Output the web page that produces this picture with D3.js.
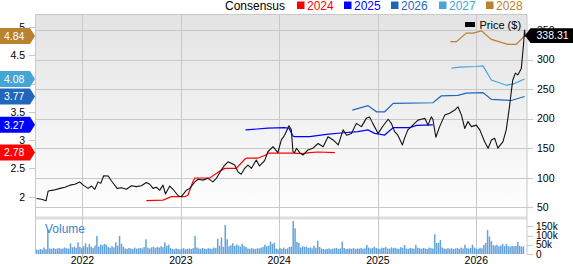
<!DOCTYPE html>
<html>
<head>
<meta charset="utf-8">
<script src="https://cdn.jsdelivr.net/npm/d3@7"></script>
<style>
  body { margin: 0; background: #fff; }
  text { font-family: "Liberation Sans", Arial, sans-serif; }
</style>
</head>
<body>
<div id="chart"></div>
<script>
// price history (right axis, $)
const priceDates = ["2021-07-15","2021-08-03","2021-08-19","2021-08-27","2021-09-15","2021-10-10","2021-10-28","2021-11-16","2021-12-04","2021-12-22",
  "2022-01-04","2022-01-22","2022-02-04","2022-02-16","2022-02-28","2022-03-10","2022-03-21","2022-04-07","2022-04-19","2022-05-10",
  "2022-05-26","2022-06-13","2022-07-02","2022-07-20","2022-08-08","2022-08-26","2022-09-08","2022-09-20","2022-10-02","2022-10-15",
  "2022-10-27","2022-11-05","2022-11-21","2022-12-03","2022-12-22","2023-01-03","2023-01-22","2023-02-03","2023-02-22","2023-03-06",
  "2023-03-24","2023-04-12","2023-04-30","2023-05-13","2023-05-31","2023-06-13","2023-06-25","2023-07-07","2023-07-20","2023-08-01",
  "2023-08-13","2023-08-26","2023-09-07","2023-09-20","2023-10-08","2023-10-20","2023-11-08","2023-11-20","2023-12-09","2023-12-27",
  "2024-01-09","2024-01-21","2024-02-06","2024-02-15","2024-02-21","2024-02-27","2024-03-05","2024-03-17","2024-03-29","2024-04-17",
  "2024-05-05","2024-05-24","2024-06-12","2024-06-30","2024-07-19","2024-08-07","2024-08-25","2024-09-07","2024-09-25","2024-10-13",
  "2024-11-01","2024-11-19","2024-12-01","2024-12-13","2025-01-02","2025-01-20","2025-02-08","2025-02-20","2025-03-04","2025-03-16",
  "2025-04-02","2025-04-10","2025-04-22","2025-05-05","2025-05-17","2025-05-30","2025-06-11","2025-06-24","2025-07-06","2025-07-18",
  "2025-07-24","2025-08-04","2025-08-18","2025-09-06","2025-09-24","2025-10-13","2025-10-25","2025-11-07","2025-11-19","2025-12-01",
  "2025-12-14","2026-01-01","2026-01-14","2026-02-01","2026-02-14","2026-02-26","2026-03-10","2026-03-22","2026-04-10","2026-04-22",
  "2026-05-04","2026-05-16","2026-05-26","2026-06-04","2026-06-17","2026-06-25","2026-06-29","2026-07-02"];
const priceValues = [65,63.5,61,77.5,79,82,84,87.5,89,93,
  87.5,82,86,80.5,93,90.5,103.5,103,94.5,82,
  83,80.5,86.5,85,86.5,92,89,82,84,79,
  87.5,72.5,86,80.5,69.5,68,79,82,93,97.5,
  96,99,93,99,113,121.5,127,124.5,121.5,110,
  106,116,121.5,116,130,120,129,144,152.5,142.5,
  164,172,188,181,144,142.5,150,142.5,138.5,147,
  150,158,152.5,169.5,164,155.5,181,172,175,192,
  186.5,200.5,203,192,175,187.5,199,192,178,172,
  155.5,167,181,186.5,192,197.5,199,200.5,189,203,
  199,168.5,186.5,206,209,214.5,220,206,183.5,195,
  186.5,189,181,161,150,164,167,150,161,181,
  220,265,277,274,285,325,350,338.31];

// consensus EPS by fiscal year (left axis)
const epsYears = ["2024","2025","2026","2027","2028"];
const epsColors = ["#ff0000","#0000ff","#2266bb","#45a5d5","#b8822f"];
const eps2024Dates = ["2022-08-26","2022-10-27","2022-11-27","2023-01-16","2023-01-28","2023-02-15","2023-02-22","2023-04-18","2023-05-25","2023-06-13","2023-07-26","2023-08-26","2023-09-02","2023-10-14","2023-11-14","2023-11-20","2024-02-21","2024-03-29","2024-04-23","2024-05-24","2024-07-25"];
const eps2024Values = [1.93,1.94,2.0,2.0,2.03,2.27,2.33,2.33,2.45,2.5,2.5,2.66,2.68,2.68,2.74,2.77,2.77,2.76,2.78,2.79,2.78];
const eps2025Dates = ["2023-08-29","2023-11-20","2024-01-21","2024-02-06","2024-02-21","2024-02-27","2024-04-23","2024-06-24","2024-08-25","2024-10-19","2024-11-25","2024-12-20","2025-01-26","2025-02-27","2025-04-29","2025-05-24","2025-07-24"];
const eps2025Values = [3.18,3.21,3.22,3.21,3.07,3.06,3.06,3.10,3.13,3.15,3.18,3.12,3.09,3.22,3.22,3.26,3.27];
const eps2026Dates = ["2024-09-28","2024-11-25","2024-12-27","2025-01-26","2025-02-27","2025-07-24","2025-08-24","2025-10-25","2025-11-25","2026-01-26","2026-02-26","2026-05-11","2026-06-29"];
const eps2026Values = [3.53,3.61,3.50,3.50,3.65,3.66,3.78,3.79,3.83,3.84,3.72,3.70,3.77];
const eps2027Dates = ["2025-10-01","2025-11-01","2026-01-01","2026-01-26","2026-02-26","2026-04-22","2026-05-17","2026-06-29"];
const eps2027Values = [4.27,4.29,4.30,4.31,4.06,3.97,3.99,4.08];
const eps2028Dates = ["2025-09-27","2025-10-19","2025-11-25","2025-12-20","2026-01-20","2026-02-26","2026-04-28","2026-05-29","2026-06-29"];
const eps2028Values = [4.74,4.74,4.89,4.89,4.93,4.78,4.69,4.69,4.84];
const epsLast = ["2.78","3.27","3.77","4.08","4.84"];

// weekly volume (thousands), first week starting 2021-07-15
const volumeStart = "2021-07-15";
const volumeValues = [25,22,28,24,35,26,130,30,28,32,
  27,30,33,28,30,35,31,29,58,36,
  40,34,63,38,32,42,58,37,55,40,
  33,45,98,40,52,48,55,50,38,34,
  42,36,63,45,98,55,40,30,28,33,
  30,27,35,29,31,33,30,38,80,34,
  30,36,40,33,38,35,42,37,63,45,
  50,33,28,26,30,27,25,29,31,26,
  28,30,27,32,98,35,30,28,33,29,
  27,31,30,28,35,32,83,45,90,40,
  158,80,42,48,58,44,52,46,40,55,
  43,38,30,28,32,29,27,31,30,34,
  38,50,42,45,67,55,62,30,25,33,
  28,35,27,30,38,40,180,140,65,60,
  35,42,38,40,33,36,31,45,34,72,
  38,30,27,25,28,30,26,29,31,33,
  28,30,67,33,27,29,30,28,32,27,
  30,29,33,28,31,49,35,30,33,40,
  32,30,28,35,33,38,30,29,36,32,
  34,30,28,37,33,49,30,28,33,31,
  29,50,34,31,28,33,30,27,35,32,
  30,107,60,60,76,35,30,28,32,29,
  31,27,30,33,28,35,30,50,32,29,
  33,50,35,30,28,34,31,50,60,130,
  95,70,48,45,50,42,46,55,44,55,
  43,40,45,42,44,65,45,40,42];

const priceTicks = [50,100,150,200,250,300,350];
const epsTicks = [2,2.5,3,3.5,4,4.5,5];
// the "4" label sits under the 4.08 tag in the original, so it is left blank
const epsTickLabels = ["2","2.5","3","3.5","","4.5","5"];
const volumeTicks = [0,50,100,150];
const volumeTickLabels = ["0","50k","100k","150k"];
const yearTicks = ["2022","2023","2024","2025","2026"];
const lastPrice = "338.31";

const W = 573, H = 264;
const L = 35.5, R = 527, T = 14, priceBottom = 216.5, volTop = 219.5, volBottom = 254;
const parse = d3.timeParse("%Y-%m-%d");

const svg = d3.select("#chart").append("svg")
  .attr("width", W)
  .attr("height", H);

const x = d3.scaleTime()
  .domain([new Date(2022, 0, 1), new Date(2026, 0, 1)])
  .range([82.4, 476.3]);
const yPrice = d3.scaleLinear().domain([50, 350]).range([207.3, 30]);
const yEps = d3.scaleLinear().domain([2, 5]).range([196.7, 26.9]);
const yVol = d3.scaleLinear().domain([0, 150]).range([volBottom, 226.4]);

const defs = svg.append("defs");
const grad = defs.append("linearGradient")
  .attr("id", "bg")
  .attr("x1", 0).attr("y1", 0).attr("x2", 0).attr("y2", 1);
grad.append("stop").attr("offset", "0%").attr("stop-color", "#e3e3e3");
grad.append("stop").attr("offset", "100%").attr("stop-color", "#ffffff");
defs.append("clipPath").attr("id", "clipPrice")
  .append("rect").attr("x", L).attr("y", T).attr("width", R - L).attr("height", priceBottom - T);

// panels
svg.append("rect")
  .attr("x", L).attr("y", T).attr("width", R - L).attr("height", priceBottom - T)
  .attr("fill", "url(#bg)");
svg.append("rect")
  .attr("x", L).attr("y", priceBottom).attr("width", R - L).attr("height", volTop - priceBottom)
  .attr("fill", "#dedede");

// grid
svg.append("g").selectAll("line")
  .data(priceTicks)
  .enter().append("line")
  .attr("x1", L).attr("x2", R + 6)
  .attr("y1", d => Math.round(yPrice(d)) + 0.5)
  .attr("y2", d => Math.round(yPrice(d)) + 0.5)
  .attr("stroke", "#c8c8c8");
svg.append("g").selectAll("line")
  .data(yearTicks)
  .enter().append("line")
  .attr("x1", d => Math.round(x(parse(d + "-01-01"))) + 0.5)
  .attr("x2", d => Math.round(x(parse(d + "-01-01"))) + 0.5)
  .attr("y1", T).attr("y2", volBottom + 4)
  .attr("stroke", "#c8c8c8");

// volume bars
const volStart = parse(volumeStart);
svg.append("g").selectAll("rect")
  .data(volumeValues)
  .enter().append("rect")
  .attr("x", (d, i) => x(d3.timeWeek.offset(volStart, i)) - 0.8)
  .attr("width", 1.5)
  .attr("y", d => yVol(d))
  .attr("height", d => volBottom - yVol(d))
  .attr("fill", "#64a2da");

svg.append("text")
  .attr("x", 45).attr("y", 232.5)
  .attr("font-size", 12)
  .attr("fill", "#3b86c6")
  .text("Volume");

// consensus lines
const epsSeries = [
  [eps2024Dates, eps2024Values],
  [eps2025Dates, eps2025Values],
  [eps2026Dates, eps2026Values],
  [eps2027Dates, eps2027Values],
  [eps2028Dates, eps2028Values]
];
const lineEps = d3.line()
  .x(d => x(d[0]))
  .y(d => yEps(d[1]));
const plot = svg.append("g").attr("clip-path", "url(#clipPrice)");
epsSeries.forEach((s, k) => {
  const pts = s[0].map((d, i) => [parse(d), s[1][i]]);
  plot.append("path")
    .datum(pts)
    .attr("d", lineEps)
    .attr("fill", "none")
    .attr("stroke", epsColors[k])
    .attr("stroke-width", 1.2);
});

// price line
const pricePts = priceDates.map((d, i) => [parse(d), priceValues[i]]);
plot.append("path")
  .datum(pricePts)
  .attr("d", d3.line().x(d => x(d[0])).y(d => yPrice(d[1])))
  .attr("fill", "none")
  .attr("stroke", "#111")
  .attr("stroke-width", 1.1)
  .attr("stroke-linejoin", "round");

// frame
svg.append("path")
  .attr("d", `M${L},${volBottom}V${T + 0.5}H${R}V${volBottom}`)
  .attr("fill", "none")
  .attr("stroke", "#c8c8c8");

// right axis: price
const rightAxis = svg.append("g");
rightAxis.selectAll("text.p")
  .data(priceTicks)
  .enter().append("text")
  .attr("class", "p")
  .attr("x", 537).attr("y", d => yPrice(d) + 3.8)
  .attr("font-size", 10.5)
  .text(d => d);
rightAxis.selectAll("line.v")
  .data(volumeTicks)
  .enter().append("line")
  .attr("class", "v")
  .attr("x1", R).attr("x2", R + 6)
  .attr("y1", d => Math.round(yVol(d)) + 0.5)
  .attr("y2", d => Math.round(yVol(d)) + 0.5)
  .attr("stroke", "#c8c8c8");
rightAxis.selectAll("text.v")
  .data(volumeTicks)
  .enter().append("text")
  .attr("class", "v")
  .attr("x", 536).attr("y", d => yVol(d) + 3.5)
  .attr("font-size", 10)
  .text((d, i) => volumeTickLabels[i]);

// left axis: EPS
const leftAxis = svg.append("g");
leftAxis.selectAll("line")
  .data(epsTicks)
  .enter().append("line")
  .attr("x1", 29).attr("x2", L)
  .attr("y1", d => Math.round(yEps(d)) + 0.5)
  .attr("y2", d => Math.round(yEps(d)) + 0.5)
  .attr("stroke", "#c8c8c8");
leftAxis.selectAll("text")
  .data(epsTicks)
  .enter().append("text")
  .attr("x", 25).attr("y", d => yEps(d) + 3.8)
  .attr("text-anchor", "end")
  .attr("font-size", 10.5)
  .text((d, i) => epsTickLabels[i]);

// x axis labels
svg.append("g").selectAll("text")
  .data(yearTicks)
  .enter().append("text")
  .attr("x", d => x(parse(d + "-01-01")))
  .attr("y", 263.5)
  .attr("text-anchor", "middle")
  .attr("font-size", 10.5)
  .text(d => d);

// left value tags
const tags = svg.append("g");
epsLast.forEach((v, k) => {
  const cy = yEps(+v);
  tags.append("path")
    .attr("d", `M0,${cy - 8}H30L35,${cy}L30,${cy + 8}H0Z`)
    .attr("fill", epsColors[k]);
  tags.append("text")
    .attr("x", 4).attr("y", cy + 3.8)
    .attr("font-size", 10.5)
    .attr("fill", "#fff")
    .text(v);
});

// right price tag
const py = yPrice(+lastPrice) - 1.3;
svg.append("path")
  .attr("d", `M525,${py}L530.5,${py - 7.3}H573V${py + 7.3}H530.5Z`)
  .attr("fill", "#000");
svg.append("text")
  .attr("x", 536.5).attr("y", py + 3.8)
  .attr("font-size", 10.5)
  .attr("fill", "#fff")
  .text(lastPrice);

// price legend inside plot
svg.append("rect")
  .attr("x", 465).attr("y", 22).attr("width", 10).attr("height", 5)
  .attr("fill", "#000");
svg.append("text")
  .attr("x", 479.5).attr("y", 29)
  .attr("font-size", 11)
  .text("Price ($)");

// consensus legend
const legend = svg.append("g");
legend.append("text")
  .attr("x", 225).attr("y", 10)
  .attr("font-size", 12)
  .text("Consensus");
const legendX = [297, 344, 391, 439, 486];
epsYears.forEach((yr, k) => {
  legend.append("rect")
    .attr("x", legendX[k]).attr("y", 1.5)
    .attr("width", 7.5).attr("height", 7.5)
    .attr("fill", epsColors[k]);
  legend.append("text")
    .attr("x", legendX[k] + 10).attr("y", 10)
    .attr("font-size", 12)
    .attr("fill", epsColors[k])
    .text(yr);
});
</script>
</body>
</html>
